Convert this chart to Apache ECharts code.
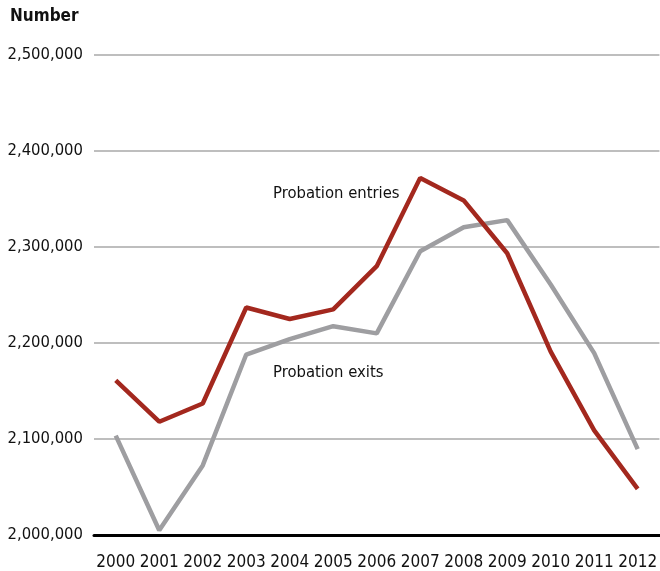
<!DOCTYPE html>
<html>
<head>
<meta charset="utf-8">
<script src="https://cdn.jsdelivr.net/npm/echarts@6/dist/echarts.min.js"></script>
<style>
html,body{margin:0;padding:0;background:#fff;}
#chart{width:660px;height:571px;}
</style>
</head>
<body>
<div id="chart"></div>
<script>
var years = ['2000','2001','2002','2003','2004','2005','2006','2007','2008','2009','2010','2011','2012'];
var entries = [2161000,2118000,2137000,2237000,2225000,2235000,2280000,2372000,2348500,2293500,2191000,2109000,2048000];
var exits = [2103500,2005000,2072500,2188000,2204000,2217500,2210000,2295500,2320500,2328000,2261000,2189500,2089500];
var yTicks = [2000000,2100000,2200000,2300000,2400000,2500000];

var font = '"DejaVu Sans Condensed", "Liberation Sans", sans-serif';
var chart = echarts.init(document.getElementById('chart'));

chart.setOption({
	animation: false,
	grid: {left: 94, top: 55, width: 569, bottom: 34, containLabel: false},
	xAxis: {
		type: 'category',
		data: years,
		boundaryGap: true,
		axisLine: {lineStyle: {color: '#000', width: 3}},
		axisTick: {show: false},
		axisLabel: {interval: 0, color: '#111', fontFamily: font, fontSize: 17, margin: 19}
	},
	yAxis: {
		type: 'value',
		min: yTicks[0],
		max: yTicks[yTicks.length - 1],
		interval: 100000,
		axisLine: {show: false},
		axisTick: {show: false},
		axisLabel: {
			color: '#111', fontFamily: font, fontSize: 16.5, margin: 11,
			formatter: function(v){ return v.toLocaleString('en-US'); }
		},
		splitLine: {lineStyle: {color: '#a8a8a8', width: 1.5}}
	},
	graphic: [
		{type: 'text', left: 10, top: 8, style: {text: 'Number', fontFamily: font, fontSize: 17, fontWeight: 'bold', fill: '#111'}},
		{type: 'text', left: 273, top: 185, style: {text: 'Probation entries', fontFamily: font, fontSize: 16.5, fill: '#111'}},
		{type: 'text', left: 273, top: 364, style: {text: 'Probation exits', fontFamily: font, fontSize: 16.5, fill: '#111'}}
	],
	series: [
		{
			name: 'Probation exits', type: 'line', data: exits,
			symbol: 'none', lineStyle: {color: '#9e9ea1', width: 4.5}
		},
		{
			name: 'Probation entries', type: 'line', data: entries,
			symbol: 'none', lineStyle: {color: '#a3281e', width: 4.5}
		}
	]
});
</script>
</body>
</html>
